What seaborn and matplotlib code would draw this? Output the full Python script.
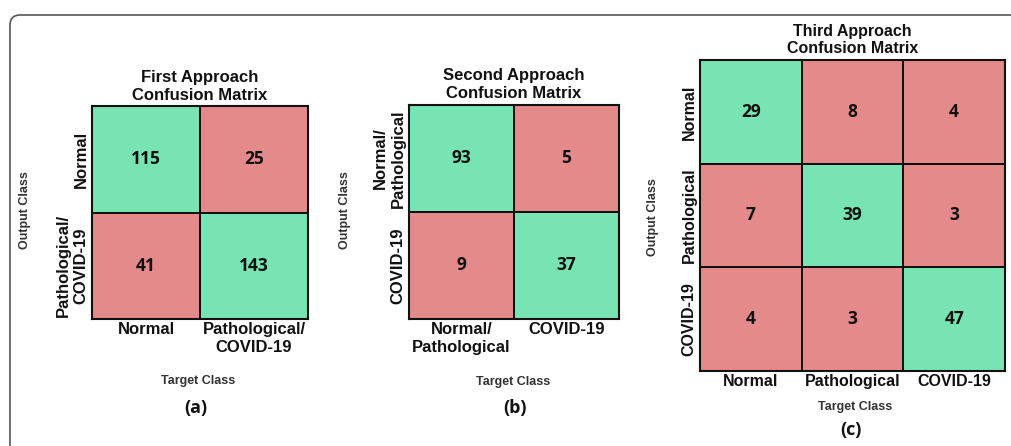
import numpy as np
import matplotlib
matplotlib.use("Agg")
import matplotlib.pyplot as plt
from matplotlib.colors import ListedColormap
from matplotlib.patches import FancyBboxPatch
from matplotlib.transforms import IdentityTransform
import seaborn as sns

# ---- data ----
titles = ["First Approach\nConfusion Matrix",
          "Second Approach\nConfusion Matrix",
          "Third Approach\nConfusion Matrix"]
captions = ["(a)", "(b)", "(c)"]

labels_a = ["Normal", "Pathological/\nCOVID-19"]
counts_a = [[115, 25],
            [41, 143]]

labels_b = ["Normal/\nPathological", "COVID-19"]
counts_b = [[93, 5],
            [9, 37]]

labels_c = ["Normal", "Pathological", "COVID-19"]
counts_c = [[29, 8, 4],
            [7, 39, 3],
            [4, 3, 47]]

xlabel = "Target Class"
ylabel = "Output Class"

# ---- style ----
GREEN = "#78E4B4"
RED = "#E58A8A"
LABEL_FONT = "Liberation Sans"
NUM_FONT = "Open Sans"

W, H = 1011, 446
fig = plt.figure(figsize=(W / 100, H / 100), dpi=100)
fig.patch.set_facecolor("white")

# rounded frame (pixel coordinates)
frame = FancyBboxPatch((10, -30), 1100, H - 15 + 30,
                       boxstyle="round,pad=0,rounding_size=10",
                       transform=IdentityTransform(), fill=False,
                       edgecolor="#555555", linewidth=1.2)
fig.add_artist(frame)

def px_axes(left, top, right, bottom):
    return fig.add_axes([left / W, 1 - bottom / H, (right - left) / W, (bottom - top) / H])

panels = [
    dict(box=(92, 106, 308, 319), labels=labels_a, counts=counts_a,
         ylab=(-0.310, 0.512), xlab=(0.49, -0.291), cap=(196, 408),
         tpad=4.0, fs=12, ls=1.32),
    dict(box=(409, 105, 619, 319), labels=labels_b, counts=counts_b,
         ylab=(-0.305, 0.509), xlab=(0.495, -0.294), cap=(515, 408),
         tpad=5.0, fs=12, ls=1.22),
    dict(box=(700, 60, 1005, 371), labels=labels_c, counts=counts_c,
         ylab=(-0.154, 0.495), xlab=(0.508, -0.116), cap=(851, 430),
         tpad=5.0, fs=11.5, ls=1.2),
]

cmap = ListedColormap([RED, GREEN])

for i, p in enumerate(panels):
    ax = px_axes(*p["box"])
    counts = np.array(p["counts"])
    correct = np.eye(len(counts))
    sns.heatmap(correct, annot=counts, fmt="d", cmap=cmap, vmin=0, vmax=1,
                cbar=False, linewidths=1.3, linecolor="#111111",
                xticklabels=p["labels"], yticklabels=p["labels"], ax=ax,
                annot_kws=dict(fontfamily=NUM_FONT, fontweight="bold",
                               fontsize=12.5, color="#111111"))
    for sp in ax.spines.values():
        sp.set_visible(True)
        sp.set_color("#111111")
        sp.set_linewidth(1.5)
    ax.tick_params(length=0, pad=2.5)
    for t in ax.get_xticklabels():
        t.set_rotation(0)
        t.set_ha("center")
        t.set_va("top")
        t.set_multialignment("center")
        t.set_fontfamily(LABEL_FONT)
        t.set_fontweight("bold")
        t.set_fontsize(p["fs"])
        t.set_color("#111111")
    for t in ax.get_yticklabels():
        t.set_rotation(90)
        t.set_va("center")
        t.set_ha("right")
        t.set_multialignment("center")
        t.set_fontfamily(LABEL_FONT)
        t.set_fontweight("bold")
        t.set_fontsize(p["fs"])
        t.set_color("#111111")
    ax.set_title(titles[i], fontfamily=LABEL_FONT, fontweight="bold",
                 fontsize=p["fs"], linespacing=p["ls"], pad=p["tpad"], color="#111111")
    ax.set_xlabel(xlabel, fontfamily=LABEL_FONT, fontweight="bold",
                  fontsize=9, color="#333333")
    ax.set_ylabel(ylabel, fontfamily=LABEL_FONT, fontweight="bold",
                  fontsize=9, color="#333333")
    ax.xaxis.set_label_coords(*p["xlab"])
    ax.yaxis.set_label_coords(*p["ylab"])
    ax.xaxis.label.set_va("center")
    ax.yaxis.label.set_va("center")
    ax.yaxis.label.set_ha("center")
    cx, cy = p["cap"]
    fig.text(cx / W, 1 - cy / H, captions[i], ha="center", va="center",
             fontfamily=NUM_FONT, fontweight="bold", fontsize=13, color="#111111")

fig.savefig("out.png", dpi=100)
